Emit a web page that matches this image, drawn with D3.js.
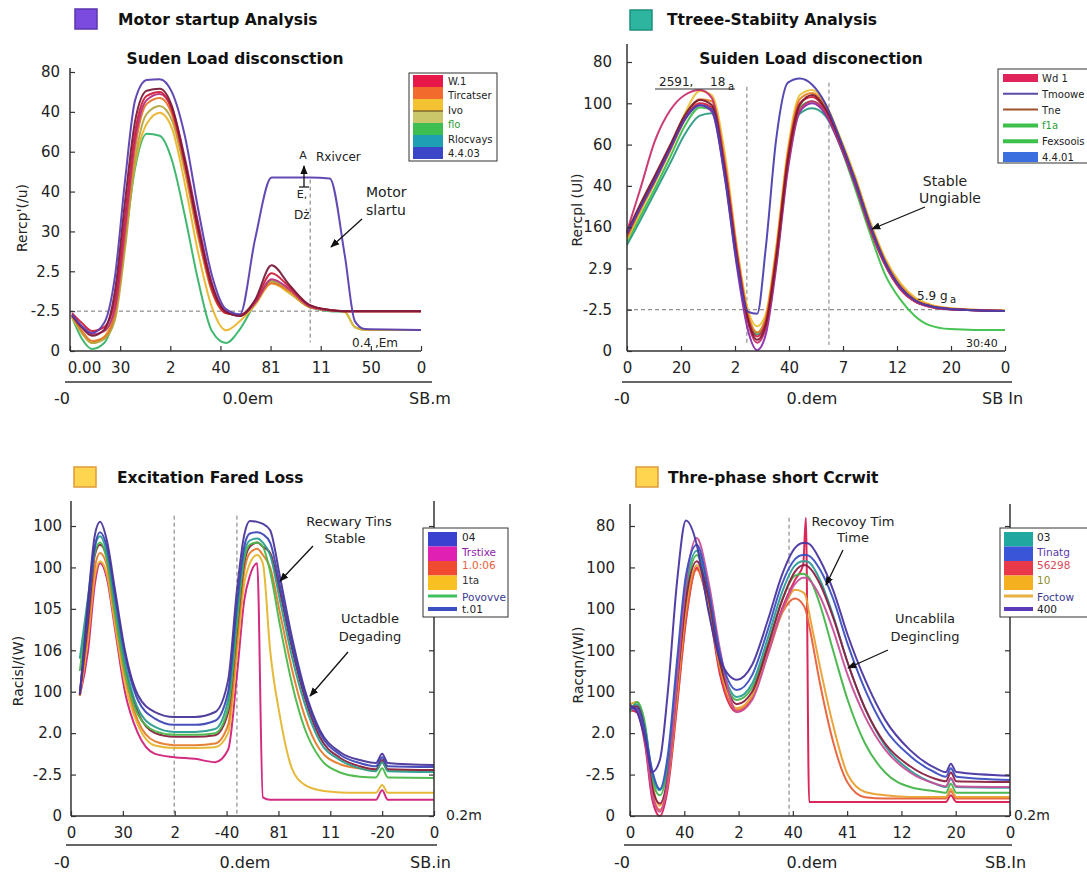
<!DOCTYPE html>
<html><head><meta charset="utf-8">
<script src="https://cdn.jsdelivr.net/npm/d3@7"></script>
<style>
body{margin:0;background:#fff}
svg text{font-family:"DejaVu Sans",Verdana,sans-serif;fill:#222}
</style></head>
<body><svg id="c" width="1087" height="873"></svg>
<script>
// ---------------- DATA ----------------
// Panel 1: Motor startup Analysis
const p1Title = "Motor startup Analysis";
const p1Subtitle = "Suden Load disconsction";
const p1YLabel = "Rercp'(/u)";
const p1XTicks = ["0.00","30","2","40","81","11","50","0"];
const p1YTicks = ["0","-2.5","2.5","30","40","60","40","80"];   // bottom -> top
const p1X = [0.04,0.24,0.44,0.68,0.9,1.1,1.3,1.53,1.79,2.03,2.29,2.55,2.83,3.11,3.39,3.69,4.02,4.38,4.78,5.18,5.48,5.68,5.88,7.0];
const p1Violet  = [0.92,0.62,0.45,0.7,1.9,4.3,6.3,6.8,6.82,6.5,5.4,3.6,1.9,1.05,0.92,2.8,4.35,4.35,4.35,4.33,2.4,0.75,0.55,0.53];
const p1Maroon  = [0.9,0.58,0.38,0.53,1.53,3.78,5.78,6.53,6.58,6.15,4.78,3.15,1.65,0.98,0.88,1.28,2.15,1.65,1.15,1.03,1.0,1.0,1.0,1.0];
const p1Red     = [0.95,0.7,0.5,0.6,1.3,3.4,5.5,6.4,6.5,6.05,4.7,3.05,1.55,0.95,0.9,1.25,1.95,1.6,1.15,1.03,1.0,1.0,1.0,1.0];
const p1Magenta = [0.88,0.6,0.42,0.5,1.1,3.1,5.3,6.3,6.45,6.1,4.85,3.25,1.7,1.0,0.88,1.2,1.8,1.55,1.12,1.02,1.0,1.0,1.0,1.0];
const p1Orange  = [0.9,0.5,0.25,0.35,0.95,2.9,5.1,6.2,6.35,5.95,4.6,2.95,1.5,0.95,0.9,1.22,1.7,1.5,1.1,1.02,1.0,1.0,1.0,1.0];
const p1Olive   = [0.9,0.45,0.2,0.3,0.8,2.6,4.8,5.95,6.15,5.8,4.5,2.9,1.5,0.95,0.9,1.2,1.75,1.5,1.1,1.02,1.0,1.0,1.0,1.0];
const p1Gold    = [0.85,0.45,0.2,0.35,1.1,2.9,4.7,5.7,5.98,5.6,4.2,2.5,1.1,0.52,0.75,1.15,1.7,1.45,1.1,1.02,0.98,0.6,0.53,0.53];
const p1Green   = [0.85,0.3,0.05,0.2,1.0,2.8,4.6,5.45,5.4,4.8,3.4,1.8,0.5,0.2,0.55,1.2,1.75,1.45,1.1,1.0,0.98,0.6,0.53,0.53];
const p1Legend = ["W.1","Tircatser","Ivo","flo","Rlocvays","4.4.03"];

// Panel 2: Ttreee-Stabiity Analysis
const p2Title = "Ttreee-Stabiity Analysis";
const p2Subtitle = "Suiden Load disconection";
const p2YLabel = "Rercpl (Ul)";
const p2XTicks = ["0","20","2","40","7","12","20","0"];
const p2YTicks = ["0","-2.5","2.9","160","40","60","100","80"];
const p2X = [0,0.24,0.52,0.8,1.07,1.35,1.57,1.81,2.04,2.24,2.41,2.57,2.76,2.98,3.2,3.43,3.67,3.94,4.22,4.5,4.78,5.06,5.33,5.61,5.98,6.44,7.0];
const p2Maroon = [2.88,3.54,4.26,4.99,5.71,6.08,5.96,4.38,2.2,0.75,0.27,0.63,2.2,4.62,5.96,6.2,5.88,5.11,4.14,3.05,2.15,1.55,1.23,1.09,1.02,0.99,0.97];
const p2Pink   = [2.9,3.9,5.1,5.83,6.2,6.32,6.13,4.5,2.3,0.7,0.2,0.55,2.1,4.5,5.85,6.05,5.8,5.05,4.1,3.0,2.1,1.5,1.2,1.07,1.01,0.99,0.97];
const p2Red    = [2.8,3.45,4.15,4.9,5.6,6.0,5.9,4.45,2.3,0.8,0.35,0.7,2.3,4.7,6.0,6.15,5.85,5.05,4.05,2.95,2.08,1.5,1.2,1.07,1.01,0.99,0.97];
const p2Orange = [2.75,3.4,4.1,4.85,5.6,6.1,6.05,4.6,2.4,0.9,0.45,0.8,2.4,4.8,6.1,6.25,5.95,5.15,4.2,3.1,2.2,1.6,1.26,1.11,1.03,1.0,0.98];
const p2Yellow = [2.7,3.35,4.1,4.9,5.75,6.3,6.2,4.8,2.5,1.0,0.6,0.9,2.5,4.9,6.2,6.32,6.0,5.2,4.25,3.15,2.25,1.65,1.3,1.13,1.04,1.0,0.98];
const p2Violet = [2.85,3.5,4.2,4.95,5.65,5.95,5.8,4.2,2.0,0.5,0.02,0.4,2.0,4.4,5.8,6.0,5.75,5.0,4.05,3.0,2.1,1.52,1.21,1.08,1.01,0.99,0.97];
const p2Teal   = [2.57,3.15,3.85,4.55,5.25,5.7,5.76,4.3,2.2,0.8,0.4,0.75,2.3,4.6,5.75,5.88,5.7,5.0,4.05,3.0,2.1,1.52,1.21,1.08,1.01,0.99,0.97];
const p2Green  = [2.65,3.25,3.95,4.7,5.45,5.9,5.85,4.4,2.25,0.85,0.45,0.8,2.35,4.7,5.9,6.05,5.8,5.0,3.95,2.85,1.85,1.25,0.85,0.62,0.53,0.51,0.51];
const p2Blue   = [2.85,3.45,4.15,4.9,5.6,5.95,5.85,4.25,2.1,0.95,0.9,2.5,5.1,6.5,6.6,6.45,6.0,5.15,4.15,3.05,2.15,1.55,1.23,1.09,1.02,0.99,0.97];
const p2Legend = ["Wd 1","Tmoowe","Tne","f1a","Fexsoois","4.4.01"];

// Panel 3: Excitation Fared Loss
const p3Title = "Excitation Fared Loss";
const p3YLabel = "Racisl/(W)";
const p3XTicks = ["0","30","2","-40","81","11","-20","0"];
const p3YTicks = ["0","-2.5","2.0","100","106","105","100","100"];
const p3X = [0.17,0.33,0.46,0.56,0.69,0.85,1.04,1.29,1.62,1.99,2.39,2.78,3.03,3.2,3.34,3.45,3.59,3.7,3.84,4.03,4.26,4.51,4.8,5.19,5.57,5.88,6.0,6.11,7.0];
const p3Purple  = [2.92,5.21,6.78,7.1,6.66,5.45,4.0,2.92,2.51,2.39,2.39,2.51,3.28,5.45,6.78,7.12,7.1,7.05,6.9,5.77,4.32,3.04,2.07,1.54,1.35,1.28,1.5,1.28,1.23];
const p3Blue    = [2.95,4.9,6.5,6.85,6.5,5.3,3.9,2.8,2.35,2.2,2.2,2.3,3.0,5.1,6.5,6.82,6.85,6.8,6.6,5.55,4.15,2.95,2.0,1.48,1.28,1.2,1.42,1.2,1.18];
const p3Teal    = [3.8,5.3,6.5,6.75,6.35,5.1,3.7,2.6,2.15,2.03,2.03,2.1,2.8,4.9,6.35,6.65,6.7,6.6,6.3,5.2,3.85,2.7,1.8,1.35,1.15,1.08,1.3,1.08,1.06];
const p3Green   = [3.5,5.1,6.35,6.6,6.2,4.9,3.5,2.45,2.05,1.96,1.96,2.0,2.6,4.6,6.2,6.55,6.6,6.5,5.9,4.6,3.2,2.1,1.4,1.05,0.95,0.93,1.15,0.93,0.92];
const p3DarkRed = [2.95,4.7,6.3,6.55,6.25,5.0,3.6,2.5,2.0,1.91,1.91,1.95,2.5,4.5,6.1,6.5,6.6,6.5,6.35,5.4,4.05,2.85,1.9,1.4,1.2,1.13,1.35,1.13,1.11];
const p3Orange  = [2.9,4.5,6.0,6.35,6.05,4.8,3.4,2.3,1.8,1.71,1.71,1.75,2.2,4.2,5.9,6.35,6.45,6.3,6.0,4.9,3.55,2.4,1.6,1.25,1.15,1.1,1.3,1.1,1.1];
const p3Gold    = [2.9,4.3,5.8,6.15,5.85,4.6,3.2,2.2,1.7,1.64,1.64,1.66,2.0,3.9,5.6,6.1,6.3,6.1,4.0,2.4,1.15,0.75,0.62,0.57,0.56,0.56,0.75,0.56,0.56];
const p3Magenta = [2.9,4.0,5.6,6.1,5.75,4.5,3.0,2.0,1.5,1.42,1.38,1.3,1.6,3.4,5.2,5.8,6.1,0.45,0.39,0.39,0.39,0.39,0.39,0.39,0.39,0.39,0.62,0.39,0.39];
const p3Legend = ["04","Trstixe","1.0:06","1ta","Povovve","t.01"];

// Panel 4: Thre-phase short Ccrwit
const p4Title = "Thre-phase short Ccrwit";
const p4YLabel = "Racqn/(Wl)";
const p4XTicks = ["0","40","2","40","41","12","20","0"];
const p4YTicks = ["0","-2.5","2.0","100","100","100","100","80"];
const p4X = [0,0.13,0.28,0.41,0.55,0.7,0.87,1.03,1.23,1.44,1.66,1.97,2.25,2.54,2.8,3.04,3.19,3.24,3.3,3.5,3.74,4.01,4.33,4.7,5.16,5.62,5.82,5.91,6.01,7.0];
const p4Purple  = [2.68,2.51,1.84,1.06,1.35,3.04,5.7,7.13,6.55,4.98,3.77,3.29,3.65,4.73,5.82,6.47,6.59,6.59,6.57,6.18,5.46,4.37,3.29,2.32,1.59,1.16,1.06,1.26,1.06,0.97];
const p4Blue    = [2.6,2.6,2.0,1.1,0.65,1.5,3.8,5.8,6.55,5.5,3.9,3.04,3.4,4.5,5.6,6.2,6.3,6.3,6.28,5.95,5.25,4.15,3.05,2.1,1.45,1.05,0.95,1.15,0.95,0.87];
const p4Teal    = [2.55,2.7,2.1,1.0,0.62,1.3,3.5,5.5,6.4,5.4,3.8,2.87,3.2,4.3,5.4,6.05,6.15,6.15,6.12,5.7,4.85,3.7,2.6,1.7,1.1,0.78,0.7,0.9,0.7,0.68];
const p4Green   = [2.5,2.75,2.2,0.9,0.5,1.2,3.3,5.3,6.3,5.3,3.7,2.8,3.1,4.15,5.2,5.8,5.85,5.82,5.75,5.1,4.0,2.8,1.75,1.05,0.7,0.6,0.56,0.78,0.56,0.56];
const p4DarkRed = [2.6,2.65,2.0,0.7,0.3,1.0,3.2,5.2,6.15,5.3,3.7,2.7,3.0,4.1,5.2,5.9,6.05,6.05,6.0,5.6,4.8,3.7,2.6,1.75,1.2,0.9,0.84,1.05,0.84,0.82];
const p4Orange  = [2.7,2.75,2.1,0.8,0.25,0.9,3.0,5.0,6.05,5.2,3.6,2.6,2.9,3.9,4.9,5.46,5.4,5.3,4.9,3.6,2.2,1.0,0.58,0.5,0.46,0.46,0.46,0.65,0.46,0.46];
const p4Red     = [2.6,2.6,1.9,0.6,0.15,0.8,2.8,4.8,5.95,5.1,3.5,2.55,2.9,4.0,4.9,5.25,5.1,4.95,4.6,3.2,1.8,0.8,0.45,0.42,0.42,0.42,0.42,0.6,0.42,0.42];
const p4Pink    = [2.6,2.55,1.8,0.5,0.1,0.9,3.3,5.6,6.71,5.7,4.0,2.51,2.8,3.9,4.95,5.6,5.75,5.75,5.7,5.3,4.5,3.4,2.4,1.6,1.05,0.78,0.72,0.92,0.72,0.7];
const p4Crimson = [2.55,2.5,1.7,0.4,0.0,0.7,2.7,4.7,5.99,5.1,3.4,2.51,2.85,3.95,5.0,5.7,6.06,7.2,0.34,0.34,0.34,0.34,0.34,0.34,0.34,0.34,0.34,0.5,0.34,0.34];
const p4Legend = ["03","Tinatg","56298","10","Foctow","400"];

// ---------------- LAYOUT / STYLE ----------------
const FONT = "'DejaVu Sans',Verdana,sans-serif";
const svg = d3.select("#c");
const defs = svg.append("defs");
defs.append("marker").attr("id","ah").attr("viewBox","0 0 10 10").attr("refX",9).attr("refY",5)
  .attr("markerWidth",7).attr("markerHeight",7).attr("orient","auto")
  .append("path").attr("d","M0,1L10,5L0,9z").style("fill","#111");

const panels = [
  {title:p1Title, sub:p1Subtitle, ylab:p1YLabel, xt:p1XTicks, yt:p1YTicks, xs:p1X,
   series:[p1Green,p1Gold,p1Olive,p1Orange,p1Magenta,p1Red,p1Maroon,p1Violet],
   colors:["#36B467","#EBB52C","#B3A640","#E5782A","#B8307E","#D0203C","#7A1C3A","#5B3FB0"],
   x0:70,x1:421,y0:351,y7:72,axTop:68,rightAxis:false,ypad:10,firstShift:14,
   sq:[75,9,"#7B4BE0","#5A35B0"], tx:118, ty:25, subx:235, suby:64, ylx:22, yly:218,
   hdash:[1], vdash:[[4.79,4.3,0.22]],
   bl:{y:382,xa:65,xb:432,ty:404,labels:[["-0",62,"middle"],["0.0em",248,"middle"],["SB.m",409,"start"]]}},
  {title:p2Title, sub:p2Subtitle, ylab:p2YLabel, xt:p2XTicks, yt:p2YTicks, xs:p2X,
   series:[p2Teal,p2Green,p2Yellow,p2Orange,p2Red,p2Violet,p2Pink,p2Maroon,p2Blue],
   colors:["#2A9A82","#3CC04A","#E9C33A","#E6802A","#D4203F","#8B2CAE","#C8306E","#7E1B2E","#4C3FAF"],
   x0:627,x1:1005,y0:351,y7:62,axTop:44,rightAxis:false,ypad:15,firstShift:0,
   sq:[630,10,"#2DB5A0","#1D8F7E"], tx:667, ty:25, subx:811, suby:64, ylx:577, yly:210,
   hdash:[1], vdash:[[2.22,6.4,0.15],[3.74,6.5,0.15]],
   bl:{y:382,xa:622,xb:1012,ty:404,labels:[["-0",622,"middle"],["0.dem",812,"middle"],["SB In",982,"start"]]}},
  {title:p3Title, sub:null, ylab:p3YLabel, xt:p3XTicks, yt:p3YTicks, xs:p3X,
   series:[p3Magenta,p3Gold,p3Orange,p3DarkRed,p3Green,p3Teal,p3Blue,p3Purple],
   colors:["#D0207A","#E6B52E","#E57B2A","#8B1E3F","#49B84A","#2A9D8F","#3D48B5","#4A3598"],
   x0:71,x1:434,y0:816,y7:526,axTop:501,rightAxis:true,ypad:9,firstShift:0,
   sq:[74,467,"#FFD54F","#E09A3A"], tx:117, ty:483, subx:0, suby:0, ylx:18, yly:671,
   hdash:[], vdash:[[1.99,7.25,0],[3.2,7.25,0]],
   bl:{y:845,xa:66,xb:437,ty:868,labels:[["-0",62,"middle"],["0.dem",245,"middle"],["SB.in",410,"start"]]}},
  {title:p4Title, sub:null, ylab:p4YLabel, xt:p4XTicks, yt:p4YTicks, xs:p4X,
   series:[p4Crimson,p4Red,p4Orange,p4Green,p4Teal,p4DarkRed,p4Pink,p4Blue,p4Purple],
   colors:["#D81B50","#E8603A","#E8A030","#45B54A","#2A9E96","#8B2040","#C8509A","#3B4FC0","#4A35A0"],
   x0:630,x1:1010,y0:816,y7:526,axTop:504,rightAxis:true,ypad:15,firstShift:0,
   sq:[636,467,"#FFD54F","#E09A3A"], tx:668, ty:483, subx:0, suby:0, ylx:578, yly:665,
   hdash:[], vdash:[[2.93,7.2,0]],
   bl:{y:845,xa:624,xb:1012,ty:868,labels:[["-0",622,"middle"],["0.dem",812,"middle"],["SB.In",985,"start"]]}}
];

function txt(g,x,y,s,size,anchor,weight,color){
  return g.append("text").attr("x",x).attr("y",y).text(s)
    .style("font-size",size+"px").attr("text-anchor",anchor||"start")
    .style("font-weight",weight||"normal").style("fill",color||"#222");
}
function arrow(g,x1,y1,x2,y2){
  g.append("line").attr("x1",x1).attr("y1",y1).attr("x2",x2).attr("y2",y2)
   .attr("stroke","#111").attr("stroke-width",1.3).attr("marker-end","url(#ah)");
}

panels.forEach(p=>{
  const g = svg.append("g");
  const x = d3.scaleLinear().domain([0,7]).range([p.x0,p.x1]);
  const y = d3.scaleLinear().domain([0,7]).range([p.y0,p.y7]);
  // title block
  g.append("rect").attr("x",p.sq[0]).attr("y",p.sq[1]).attr("width",22).attr("height",20)
    .attr("fill",p.sq[2]).attr("stroke",p.sq[3]).attr("stroke-width",1.5);
  txt(g,p.tx,p.ty,p.title,15.5,"start","bold","#111");
  if(p.sub) txt(g,p.subx,p.suby,p.sub,15.5,"middle","bold","#111");
  // dashed refs
  p.hdash.forEach(v=>g.append("line").attr("x1",p.x0).attr("x2",p.x1).attr("y1",y(v)).attr("y2",y(v))
    .attr("stroke","#777").attr("stroke-width",1).attr("stroke-dasharray","4,3"));
  p.vdash.forEach(v=>g.append("line").attr("x1",x(v[0])).attr("x2",x(v[0])).attr("y1",y(v[1])).attr("y2",y(v[2]))
    .attr("stroke","#777").attr("stroke-width",1).attr("stroke-dasharray","4,3"));
  // curves
  const line = d3.line().x((d,i)=>x(p.xs[i])).y(d=>y(d)).curve(d3.curveMonotoneX);
  p.series.forEach((s,k)=>{
    g.append("path").attr("d",line(s)).attr("fill","none").attr("stroke",p.colors[k])
      .attr("stroke-width",2).attr("stroke-linejoin","round").attr("opacity",0.95);
  });
  // axes
  const xa = d3.axisBottom(x).tickValues(d3.range(8)).tickFormat(i=>p.xt[i]).tickSizeInner(-5).tickSizeOuter(0).tickPadding(11);
  const ya = d3.axisLeft(y).tickValues(d3.range(8)).tickFormat(i=>p.yt[i]).tickSizeInner(-5).tickSizeOuter(0).tickPadding(p.ypad);
  const gx = g.append("g").attr("transform",`translate(0,${p.y0})`).call(xa);
  const gy = g.append("g").attr("transform",`translate(${p.x0},0)`).call(ya);
  [gx,gy].forEach(a=>{a.select(".domain").remove();
    a.selectAll("text").style("font-size","15px").style("font-family",FONT).style("fill","#222");
    a.selectAll("line").attr("stroke","#333").attr("stroke-width",1.2);});
  if(p.firstShift) gx.selectAll(".tick text").filter((d,i)=>i===0).attr("dx",p.firstShift);
  g.append("line").attr("x1",p.x0).attr("x2",p.x0).attr("y1",p.axTop).attr("y2",p.y0).attr("stroke","#333").attr("stroke-width",1.5);
  g.append("line").attr("x1",p.x0).attr("x2",p.x1).attr("y1",p.y0).attr("y2",p.y0).attr("stroke","#333").attr("stroke-width",1.5);
  if(p.rightAxis){
    const ra = d3.axisRight(y).tickValues(d3.range(8)).tickFormat("").tickSizeInner(-5).tickSizeOuter(0);
    const gr = g.append("g").attr("transform",`translate(${p.x1},0)`).call(ra);
    gr.select(".domain").remove();
    gr.selectAll("line").attr("stroke","#333").attr("stroke-width",1.2);
    g.append("line").attr("x1",p.x1).attr("x2",p.x1).attr("y1",p.axTop).attr("y2",p.y0).attr("stroke","#333").attr("stroke-width",1.5);
  }
  // y label
  g.append("text").attr("transform",`translate(${p.ylx},${p.yly}) rotate(-90)`).attr("text-anchor","middle")
    .attr("dy","0.35em").text(p.ylab).style("font-size","14px");
  // secondary baseline
  g.append("line").attr("x1",p.bl.xa).attr("x2",p.bl.xb).attr("y1",p.bl.y).attr("y2",p.bl.y).attr("stroke","#333").attr("stroke-width",1.5);
  p.bl.labels.forEach(l=>txt(g,l[1],p.bl.ty,l[0],16,l[2]));
});

// ---------------- ANNOTATIONS ----------------
const an = svg.append("g");
// panel 1
txt(an,303,159,"A",11,"middle");
arrow(an,304,187,304,166);
an.append("line").attr("x1",299).attr("x2",309).attr("y1",187).attr("y2",187).attr("stroke","#111").attr("stroke-width",1.2);
txt(an,302,198,"E,",11,"middle");
txt(an,316,161,"Rxivcer",12,"start");
txt(an,294,219,"Dż",12,"start");
txt(an,366,197,"Motor",14,"start");
txt(an,366,215,"slartu",14,"start");
arrow(an,362,219,331,247);
txt(an,352,347,"0.4 ,Em",12,"start");
// panel 2
txt(an,659,86,"2591,",12,"start");
txt(an,710,86,"18",12,"start");
txt(an,728,90,"a",10,"start");
an.append("line").attr("x1",655).attr("x2",735).attr("y1",89).attr("y2",89).attr("stroke","#333").attr("stroke-width",1.2);
txt(an,945,186,"Stable",14,"middle");
txt(an,950,203,"Ungiable",14,"middle");
arrow(an,925,207,872,229);
txt(an,917,300,"5.9 g",12,"start");
txt(an,950,303,"a",10,"start");
txt(an,966,347,"30:40",11,"start");
// panel 3
txt(an,349,526,"Recwary Tins",13,"middle");
txt(an,345,543,"Stable",13,"middle");
arrow(an,313,546,280,581);
txt(an,370,623,"Uctadble",13,"middle");
txt(an,370,641,"Degading",13,"middle");
arrow(an,348,652,310,696);
txt(an,446,820,"0.2m",14,"start");
// panel 4
txt(an,853,526,"Recovoy Tim",13,"middle");
txt(an,853,542,"Time",13,"middle");
arrow(an,843,550,826,585);
txt(an,925,623,"Uncablila",13,"middle");
txt(an,925,641,"Degincling",13,"middle");
arrow(an,888,650,848,668);
txt(an,1014,820,"0.2m",14,"start");

// ---------------- LEGENDS ----------------
const lg = svg.append("g");
// panel 1: stacked colour bands
lg.append("rect").attr("x",409).attr("y",73).attr("width",88).attr("height",88).attr("fill","#fff").attr("stroke","#333");
["#E8174A","#F26A2C","#F2C230","#C9C76A","#3DBE50","#1FA0B2","#3A45C8"].forEach((c,i)=>
  lg.append("rect").attr("x",413).attr("y",75+i*12).attr("width",30).attr("height",12).attr("fill",c));
lg.append("line").attr("x1",413).attr("x2",443).attr("y1",111).attr("y2",111).attr("stroke","#5a3a1a").attr("stroke-width",1);
const l1c = ["#222","#222","#222","#2E9E3A","#222","#222"];
p1Legend.forEach((s,i)=>txt(lg,448,85+i*14.4,s,10,"start","normal",l1c[i]));

// panel 2
lg.append("rect").attr("x",998).attr("y",69).attr("width",100).attr("height",94).attr("fill","#fff").attr("stroke","#333");
const l2s = [["#E0245A",8],["#5B4BA8",2],["#A0522D",2],["#3CC04A",4],["#3CC04A",4],["#3B6FE0",10]];
const l2c = ["#222","#222","#222","#2E9E3A","#222","#222"];
p2Legend.forEach((s,i)=>{
  const yy = 78+i*15.8;
  lg.append("line").attr("x1",1003).attr("x2",1038).attr("y1",yy).attr("y2",yy).attr("stroke",l2s[i][0]).attr("stroke-width",l2s[i][1]);
  txt(lg,1042,yy+4,s,10,"start","normal",l2c[i]);
});

// panels 3 & 4: blocks + lines
function blockLegend(bx,by,bw,sx,lx,blocks,lines,labels,lcols){
  lg.append("rect").attr("x",bx).attr("y",by).attr("width",bw).attr("height",89).attr("fill","#fff").attr("stroke","#333");
  blocks.forEach((c,i)=>lg.append("rect").attr("x",sx).attr("y",by+4+i*14.5).attr("width",29).attr("height",14.5).attr("fill",c));
  lines.forEach((c,i)=>lg.append("line").attr("x1",sx).attr("x2",sx+29).attr("y1",by+68+i*13).attr("y2",by+68+i*13)
     .attr("stroke",c[0]).attr("stroke-width",c[1]));
  const ly=[9,24,37,52,69,81];
  labels.forEach((s,i)=>txt(lg,lx,by+ly[i]+4,s,10.5,"start","normal",lcols[i]));
}
blockLegend(423,528,85,428,462,["#3A40D0","#E020B0","#F04A30","#F8C020"],[["#3CC060",3],["#3A50C0",4]],
  p3Legend,["#222","#8E24AA","#E8603A","#333","#3A3A90","#222"]);
blockLegend(1000,528,95,1004,1037,["#1FA8A0","#3A55D8","#E8384A","#F5B020"],[["#E8B040",3],["#5A3AB8",4]],
  p4Legend,["#222","#5B3AB0","#D84A5A","#8E8E2A","#3A3A90","#222"]);
</script>
</body></html>
